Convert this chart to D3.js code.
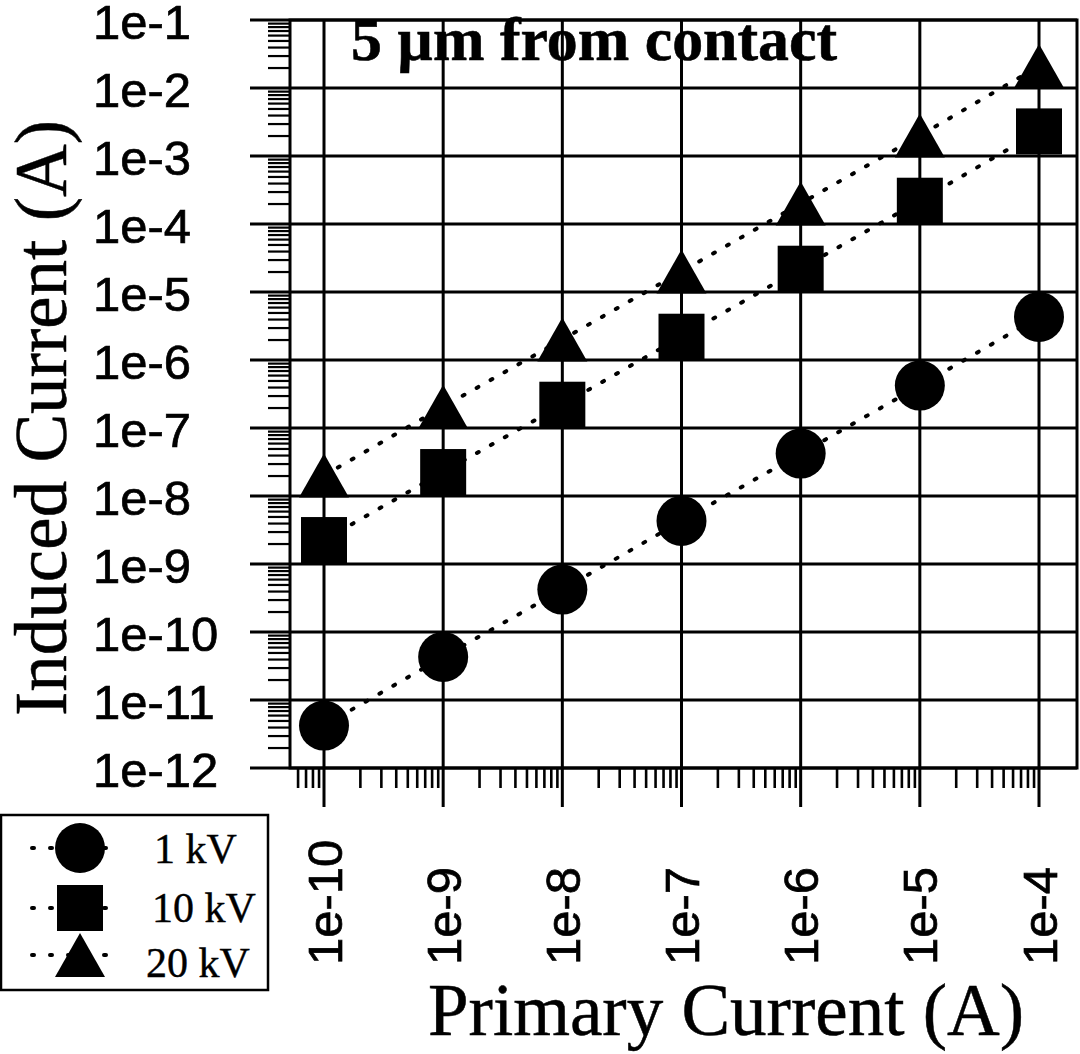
<!DOCTYPE html>
<html><head><meta charset="utf-8">
<script src="https://cdn.jsdelivr.net/npm/d3@7"></script>
<style>body{margin:0;background:#fff} svg{display:block}</style>
</head><body><svg id="c" width="1080" height="1054"></svg>
<script>
// ---- data ----
const primaryCurrent = [1e-10, 1e-9, 1e-8, 1e-7, 1e-6, 1e-5, 1e-4];
const induced1kV  = [4.2e-12, 4.3e-11, 4.2e-10, 4.3e-9, 4.2e-8, 4.2e-7, 4.3e-6];
const induced10kV = [2.25e-9, 2.25e-8, 2.2e-7, 2.2e-6, 2.2e-5, 2.2e-4, 2.3e-3];
const induced20kV = [2.0e-8, 2.05e-7, 2.0e-6, 2.0e-5, 2.0e-4, 2.0e-3, 2.1e-2];
const seriesNames = ["1 kV", "10 kV", "20 kV"];
const seriesShapes = ["circle", "square", "triangle"];
const xTickValues = [1e-10, 1e-9, 1e-8, 1e-7, 1e-6, 1e-5, 1e-4];
const xTickLabels = ["1e-10", "1e-9", "1e-8", "1e-7", "1e-6", "1e-5", "1e-4"];
const yTickValues = [1e-12, 1e-11, 1e-10, 1e-9, 1e-8, 1e-7, 1e-6, 1e-5, 1e-4, 1e-3, 1e-2, 1e-1];
const yTickLabels = ["1e-12", "1e-11", "1e-10", "1e-9", "1e-8", "1e-7", "1e-6", "1e-5", "1e-4", "1e-3", "1e-2", "1e-1"];
const titleText = "5 \u00b5m from contact";
const xTitle = "Primary Current (A)";
const yTitle = "Induced Current (A)";

// ---- layout ----
const svg = d3.select("#c");
const L = 290, R = 1077, T = 20, B = 768;
const x = d3.scaleLog().domain([1e-10, 1e-4]).range([324, 1039]);
const y = d3.scaleLog().domain([1e-12, 1e-1]).range([B, T]);
const sans = "'Liberation Sans', Arial, Helvetica, sans-serif";
const serif = "'Liberation Serif', 'Times New Roman', serif";

function minors(lo, hi, inRange) {
  const out = [];
  for (let d = lo; d <= hi; d++) for (let k = 2; k <= 9; k++) {
    const v = k * Math.pow(10, d);
    if (inRange(v)) out.push(v);
  }
  return out;
}
const xMinor = minors(-11, -4, v => x(v) > L + 2 && x(v) < R - 5);
const yMinor = minors(-12, -2, v => y(v) > T + 1 && y(v) < B - 1);

// minor ticks via axes
svg.append("g").attr("transform", `translate(${L},0)`)
  .call(d3.axisLeft(y).tickValues(yMinor).tickSize(22).tickFormat(""))
  .call(g => { g.select(".domain").remove(); g.selectAll("line").attr("stroke", "#000").attr("stroke-width", 2.2); });
svg.append("g").attr("transform", `translate(0,${B})`)
  .call(d3.axisBottom(x).tickValues(xMinor).tickSize(20).tickFormat(""))
  .call(g => { g.select(".domain").remove(); g.selectAll("line").attr("stroke", "#000").attr("stroke-width", 2.6); });

// grid lines + major ticks
svg.append("g").selectAll("line").data(yTickValues).join("line")
  .attr("x1", 250).attr("x2", R).attr("y1", d => y(d)).attr("y2", d => y(d))
  .attr("stroke", "#000").attr("stroke-width", 3);
svg.append("g").selectAll("line").data(xTickValues).join("line")
  .attr("x1", d => x(d)).attr("x2", d => x(d)).attr("y1", T).attr("y2", 807)
  .attr("stroke", "#000").attr("stroke-width", 3);
svg.append("rect").attr("x", L).attr("y", T).attr("width", R - L).attr("height", B - T)
  .attr("fill", "none").attr("stroke", "#000").attr("stroke-width", 3);

// tick labels
svg.append("g").selectAll("text").data(yTickValues).join("text")
  .attr("x", 93).attr("y", d => y(d) + 1).attr("dy", "0.36em")
  .attr("font-family", sans).attr("font-size", 49).attr("fill", "#000")
  .attr("stroke", "#000").attr("stroke-width", 0.7)
  .text((d, i) => yTickLabels[i]);
svg.append("g").selectAll("text").data(xTickValues).join("text")
  .attr("transform", d => `translate(${x(d)},965) rotate(-90)`)
  .attr("dy", "0.36em").attr("text-anchor", "start")
  .attr("font-family", sans).attr("font-size", 49).attr("fill", "#000")
  .attr("stroke", "#000").attr("stroke-width", 0.7)
  .text((d, i) => xTickLabels[i]);

// axis titles
svg.append("text").attr("x", 726).attr("y", 1035).attr("text-anchor", "middle")
  .attr("font-family", serif).attr("font-size", 73).attr("stroke", "#000").attr("stroke-width", 0.5).text(xTitle);
svg.append("text").attr("transform", "translate(66,418) rotate(-90)").attr("text-anchor", "middle")
  .attr("font-family", serif).attr("font-size", 73).attr("stroke", "#000").attr("stroke-width", 0.5).text(yTitle);

// in-plot title
svg.append("text").attr("x", 351).attr("y", 60)
  .attr("font-family", serif).attr("font-weight", "bold").attr("font-size", 62)
  .attr("stroke", "#000").attr("stroke-width", 0.6)
  .attr("textLength", 486).attr("lengthAdjust", "spacingAndGlyphs").text(titleText);

function drawMarker(g, shape, cx, cy) {
  if (shape === "circle") {
    g.append("circle").attr("cx", cx).attr("cy", cy).attr("r", 25).attr("fill", "#000");
  } else if (shape === "square") {
    g.append("rect").attr("x", cx - 23).attr("y", cy - 23).attr("width", 46).attr("height", 46).attr("fill", "#000");
  } else {
    g.append("path").attr("d", `M${cx},${cy - 22}L${cx + 25},${cy + 22}L${cx - 25},${cy + 22}Z`).attr("fill", "#000");
  }
}

const allSeries = [induced1kV, induced10kV, induced20kV];
const line = d3.line().x(d => x(d[0])).y(d => y(d[1]));
const dotted = {stroke: "#000", "stroke-width": 4, "stroke-dasharray": "2 14", "stroke-linecap": "round", fill: "none"};
allSeries.forEach(vals => {
  const pts = primaryCurrent.map((p, i) => [p, vals[i]]);
  const p = svg.append("path").attr("d", line(pts));
  Object.entries(dotted).forEach(([k, v]) => p.attr(k, v));
});
allSeries.forEach((vals, si) => {
  const g = svg.append("g");
  primaryCurrent.forEach((p, i) => drawMarker(g, seriesShapes[si], x(p), y(vals[i])));
});

// legend
const lg = svg.append("g");
lg.append("rect").attr("x", 1).attr("y", 815).attr("width", 267).attr("height", 175)
  .attr("fill", "#fff").attr("stroke", "#000").attr("stroke-width", 2.5);
const legendY = [848, 908, 955];
const legendTextY = [863, 922, 977];
const legendTextX = [154, 152, 146];
seriesNames.forEach((name, i) => {
  const l = lg.append("line").attr("x1", 32).attr("x2", 115).attr("y1", legendY[i]).attr("y2", legendY[i]);
  Object.entries(dotted).forEach(([k, v]) => l.attr(k, v));
  l.attr("stroke-dasharray", "2 16");
  drawMarker(lg, seriesShapes[i], 80, legendY[i]);
  lg.append("text").attr("x", legendTextX[i]).attr("y", legendTextY[i])
    .attr("font-family", serif).attr("font-size", 42).attr("stroke", "#000").attr("stroke-width", 0.4).text(name);
});
</script></body></html>
